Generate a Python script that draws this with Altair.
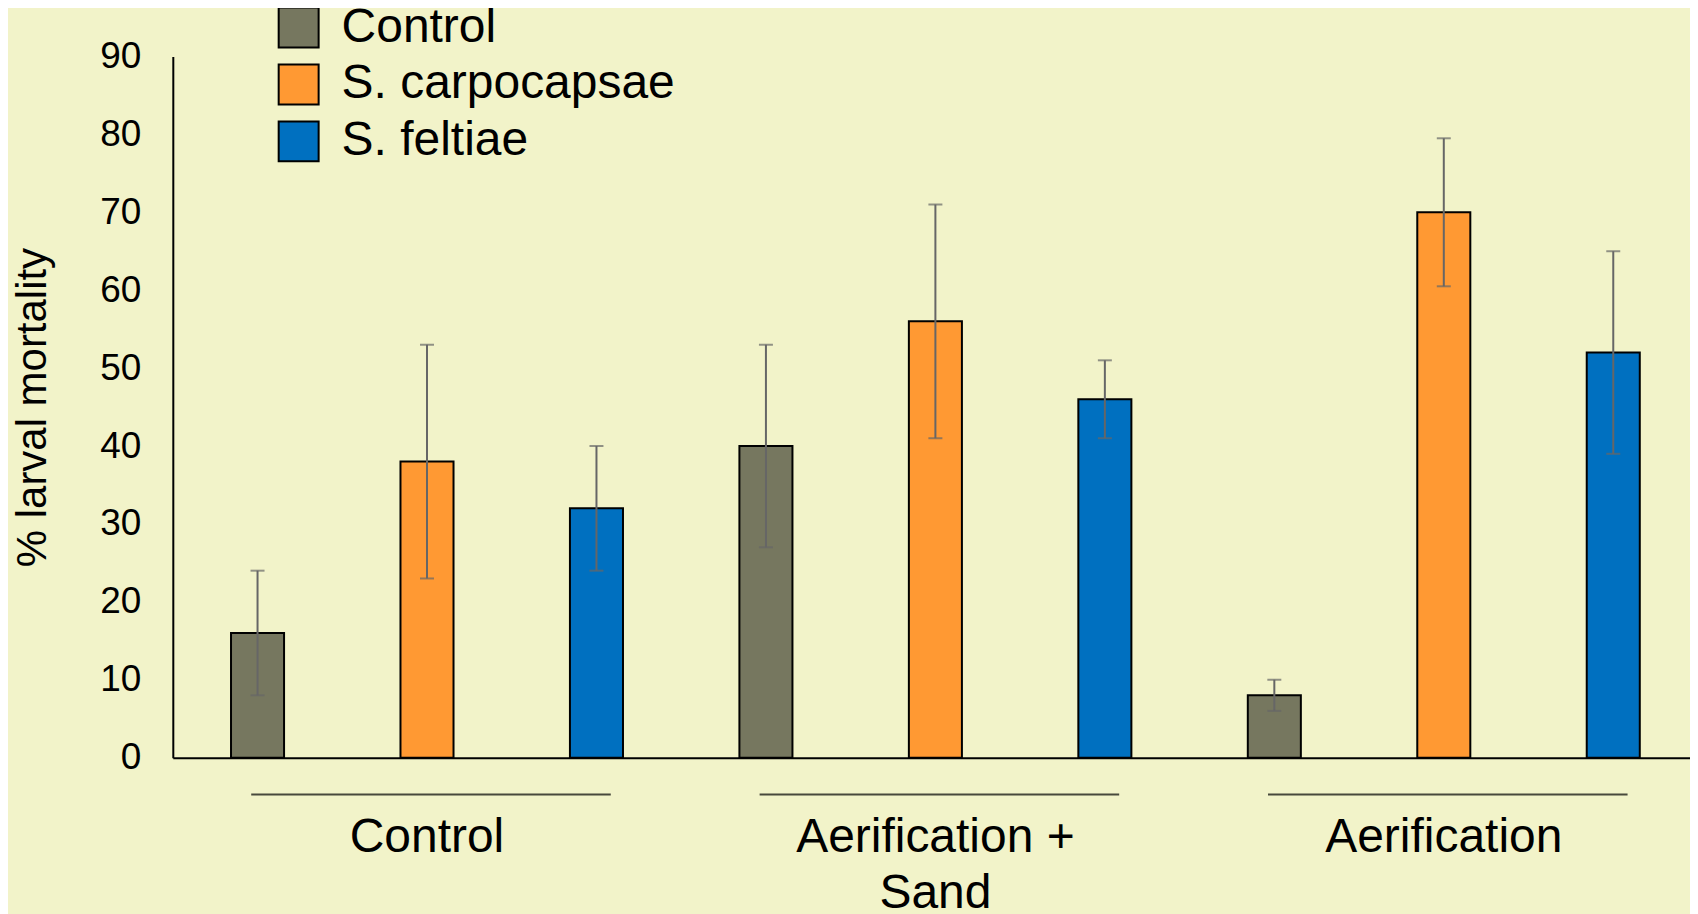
import altair as alt
import pandas as pd

groups = ["Control", "Aerification + Sand", "Aerification"]
series = ["Control", "S. carpocapsae", "S. feltiae"]
colors = ["#76775F", "#FF9933", "#0070C0"]

# % larval mortality, one list per series (in group order)
control_vals = [16, 40, 8]
carpo_vals = [38, 56, 70]
feltiae_vals = [32, 46, 52]

control_err = [8, 13, 2]
carpo_err = [15, 15, 9.5]
feltiae_err = [8, 5, 13]

rows = []
for s, vals, errs in [
    ("Control", control_vals, control_err),
    ("S. carpocapsae", carpo_vals, carpo_err),
    ("S. feltiae", feltiae_vals, feltiae_err),
]:
    for g, v, e in zip(groups, vals, errs):
        rows.append({"group": g, "series": s, "value": v, "lo": v - e, "hi": v + e})
df = pd.DataFrame(rows)
gdf = pd.DataFrame({"group": groups})

FONT = "Liberation Sans"
W, H = 1527, 702

xenc = alt.X(
    "group:N",
    sort=groups,
    scale=alt.Scale(paddingInner=0, paddingOuter=0),
    axis=alt.Axis(
        title=None,
        labelAngle=0,
        labelFontSize=48,
        labelColor="black",
        labelFont=FONT,
        labelPadding=56,
        labelLineHeight=56,
        labelBaseline="top",
        labelLimit=0,
        ticks=False,
        domainColor="black",
        domainWidth=2,
        labelExpr="datum.label == 'Aerification + Sand' ? ['Aerification +', 'Sand'] : datum.label",
    ),
)
xoff = alt.XOffset(
    "series:N",
    sort=series,
    scale=alt.Scale(paddingInner=0.687, paddingOuter=0.3435),
)
yscale = alt.Scale(domain=[0, 90], nice=False)

bars = alt.Chart(df).mark_bar(stroke="black", strokeWidth=2).encode(
    x=xenc,
    xOffset=xoff,
    y=alt.Y(
        "value:Q",
        scale=yscale,
        axis=alt.Axis(
            title="% larval mortality",
            values=list(range(0, 91, 10)),
            grid=False,
            ticks=False,
            labelFontSize=37,
            labelFont=FONT,
            labelColor="black",
            labelPadding=32,
            titleFontSize=42,
            titleFont=FONT,
            titleFontWeight="normal",
            titleColor="black",
            titlePadding=45,
            domainColor="black",
            domainWidth=2,
        ),
    ),
    color=alt.Color(
        "series:N",
        sort=series,
        scale=alt.Scale(domain=series, range=colors),
        legend=alt.Legend(
            title=None,
            orient="none",
            legendX=102,
            legendY=-53,
            symbolType="square",
            symbolSize=1600,
            symbolStrokeColor="black",
            symbolStrokeWidth=2,
            symbolOpacity=1,
            labelFontSize=48,
            labelFont=FONT,
            labelColor="black",
            labelOffset=19,
            labelLimit=0,
            rowPadding=9,
            padding=0,
        ),
    ),
)

err = alt.Chart(df).mark_rule(color="#666666", strokeWidth=2).encode(
    x=alt.X("group:N", sort=groups),
    xOffset=xoff,
    y=alt.Y("lo:Q", scale=yscale),
    y2="hi:Q",
)
cap_hi = alt.Chart(df).mark_tick(color="#666666", thickness=2, size=14, orient="horizontal").encode(
    x=alt.X("group:N", sort=groups),
    xOffset=xoff,
    y=alt.Y("hi:Q", scale=yscale),
)
cap_lo = alt.Chart(df).mark_tick(color="#666666", thickness=2, size=14, orient="horizontal").encode(
    x=alt.X("group:N", sort=groups),
    xOffset=xoff,
    y=alt.Y("lo:Q", scale=yscale),
)
underline = alt.Chart(gdf).mark_tick(
    color="black", thickness=2, size=360, orient="horizontal", xOffset=4
).encode(
    x=alt.X("group:N", sort=groups),
    y=alt.value(H + 37),
)

chart = (
    alt.layer(bars, err, cap_hi, cap_lo, underline)
    .properties(width=W, height=H, background="#F2F3C9", padding={"left": 3, "top": -5, "right": -8, "bottom": 0})
    .configure_view(stroke=None)
)

chart.save("out.html", embed_options={"renderer": "svg", "actions": False})
